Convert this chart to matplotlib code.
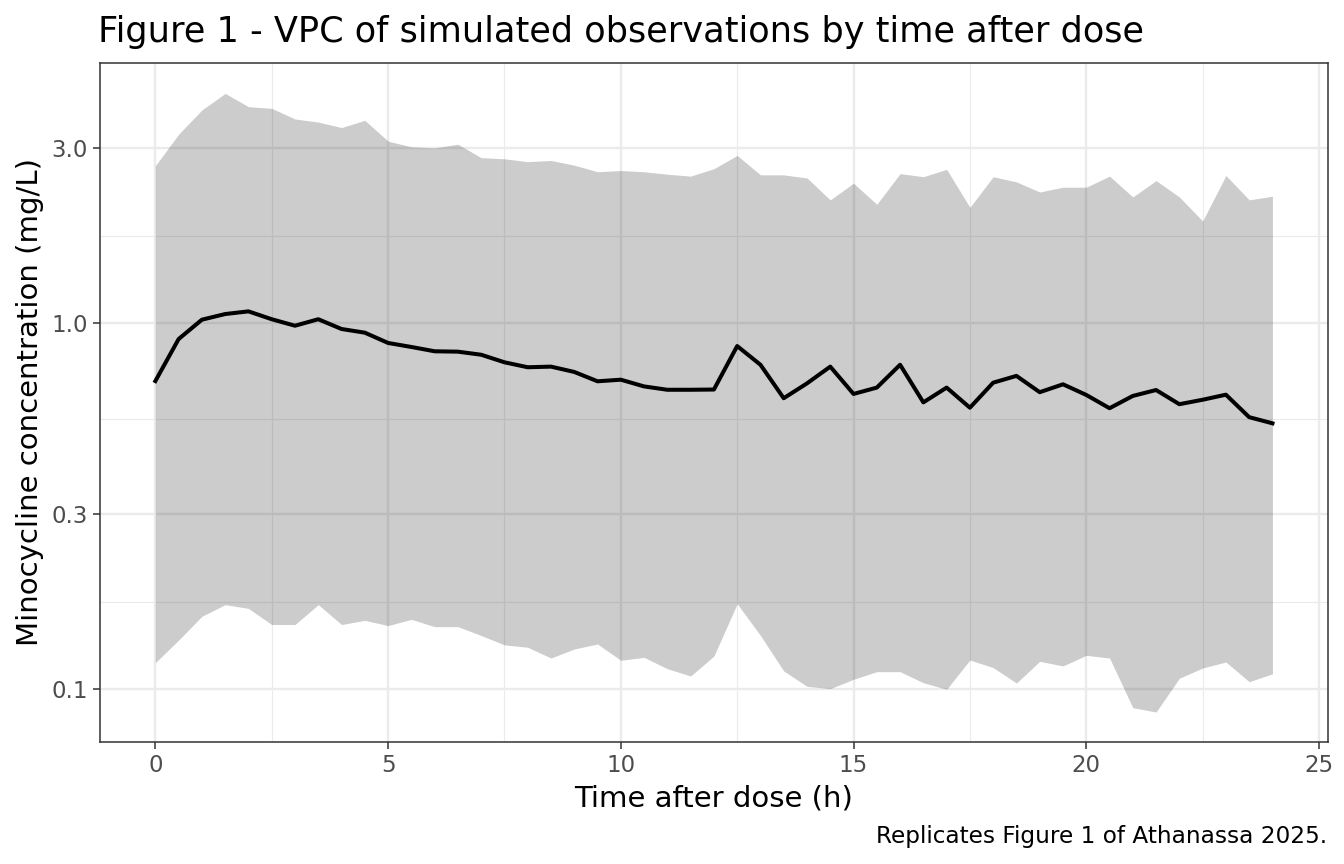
import numpy as np
import matplotlib
matplotlib.use("Agg")
import matplotlib.pyplot as plt
from matplotlib.ticker import FixedLocator, NullFormatter

# ---- data ----
time_h = [0, 0.5, 1, 1.5, 2, 2.5, 3, 3.5, 4, 4.5, 5, 5.5, 6, 6.5, 7, 7.5, 8, 8.5,
          9, 9.5, 10, 10.5, 11, 11.5, 12, 12.5, 13, 13.5, 14, 14.5, 15, 15.5, 16,
          16.5, 17, 17.5, 18, 18.5, 19, 19.5, 20, 20.5, 21, 21.5, 22, 22.5, 23,
          23.5, 24]
median_conc = [0.694, 0.904, 1.021, 1.058, 1.076, 1.024, 0.983, 1.024, 0.963, 0.941,
               0.882, 0.860, 0.837, 0.835, 0.819, 0.781, 0.757, 0.760, 0.735, 0.693,
               0.700, 0.671, 0.657, 0.657, 0.658, 0.865, 0.769, 0.623, 0.684, 0.760,
               0.640, 0.666, 0.769, 0.607, 0.666, 0.587, 0.687, 0.717, 0.647, 0.680,
               0.636, 0.585, 0.632, 0.656, 0.600, 0.617, 0.637, 0.553, 0.532]
upper_conc = [2.69, 3.28, 3.82, 4.24, 3.90, 3.86, 3.61, 3.54, 3.42, 3.58,
              3.14, 3.03, 3.01, 3.08, 2.83, 2.81, 2.76, 2.78, 2.70, 2.59,
              2.61, 2.59, 2.55, 2.52, 2.64, 2.87, 2.54, 2.54, 2.49, 2.17,
              2.41, 2.11, 2.56, 2.51, 2.63, 2.07, 2.51, 2.43, 2.28, 2.35,
              2.35, 2.52, 2.21, 2.45, 2.21, 1.90, 2.53, 2.17, 2.22]
lower_conc = [0.118, 0.136, 0.158, 0.170, 0.166, 0.150, 0.150, 0.170, 0.150, 0.154,
              0.149, 0.155, 0.148, 0.148, 0.140, 0.132, 0.130, 0.1215, 0.1286, 0.1327,
              0.1198, 0.122, 0.1136, 0.1085, 0.123, 0.171, 0.140, 0.112, 0.1017, 0.1002,
              0.1063, 0.1115, 0.1115, 0.104, 0.0998, 0.120, 0.1144, 0.1038, 0.119, 0.1156,
              0.1236, 0.1215, 0.0889, 0.0865, 0.107, 0.1141, 0.1185, 0.1047, 0.110]

x_major = [0, 5, 10, 15, 20, 25]
x_minor = [2.5, 7.5, 12.5, 17.5, 22.5]
y_major = [0.1, 0.3, 1.0, 3.0]
y_major_labels = ["0.1", "0.3", "1.0", "3.0"]
y_minor = [0.1732, 0.5477, 1.732]

title = "Figure 1 - VPC of simulated observations by time after dose"
xlabel = "Time after dose (h)"
ylabel = "Minocycline concentration (mg/L)"
caption = "Replicates Figure 1 of Athanassa 2025."

# ---- figure ----
plt.rcParams['font.family'] = ['DejaVu Sans']
W, H = 1344, 864
fig = plt.figure(figsize=(W / 100, H / 100), dpi=100)
left, right, top, bottom = 99.5, 1328.3, 62.5, 742.3
aw, ah = right - left, bottom - top
ax = fig.add_axes([left / W, 1 - bottom / H, aw / W, ah / H])

ax.set_yscale('log')
ax.set_xlim(-1.2, 25.2)
ax.set_ylim(0.0715, 5.15)

grid_col = '#EBEBEB'
for v in x_minor:
    ax.axvline(v, color=grid_col, lw=0.85, zorder=0)
for v in y_minor:
    ax.axhline(v, color=grid_col, lw=0.85, zorder=0)
for v in x_major:
    ax.axvline(v, color=grid_col, lw=1.7, zorder=0)
for v in y_major:
    ax.axhline(v, color=grid_col, lw=1.7, zorder=0)

ax.fill_between(time_h, lower_conc, upper_conc, color='black', alpha=0.2, lw=0, zorder=1)
ax.plot(time_h, median_conc, color='black', lw=2.9, zorder=2)

ax.xaxis.set_major_locator(FixedLocator(x_major))
ax.set_xticklabels([str(v) for v in x_major])
ax.yaxis.set_major_locator(FixedLocator(y_major))
ax.set_yticklabels(y_major_labels)
ax.yaxis.set_minor_locator(FixedLocator([]))
ax.yaxis.set_minor_formatter(NullFormatter())

ax.tick_params(axis='both', which='major', length=5, width=1.1, color='#333333',
               labelcolor='#4D4D4D', labelsize=16.5, pad=3.5)
for s in ax.spines.values():
    s.set_color('#333333')
    s.set_linewidth(1.1)

ax.set_xlabel(xlabel, fontsize=21, color='black')
ax.xaxis.label.set_va('baseline')
ax.xaxis.set_label_coords(0.5, (bottom - 806.5) / ah)
ax.set_ylabel(ylabel, fontsize=21, color='black')
ax.yaxis.label.set_va('center')
ax.yaxis.set_label_coords((30 - left) / aw, 0.5)

fig.text(left / W - 0.001, 1 - 42 / H, title, fontsize=25.3, ha='left', va='baseline', color='black')
fig.text(1327 / W, 1 - 843 / H, caption, fontsize=16.7, ha='right', va='baseline', color='black')

fig.savefig('out.png', dpi=100, facecolor='white')
